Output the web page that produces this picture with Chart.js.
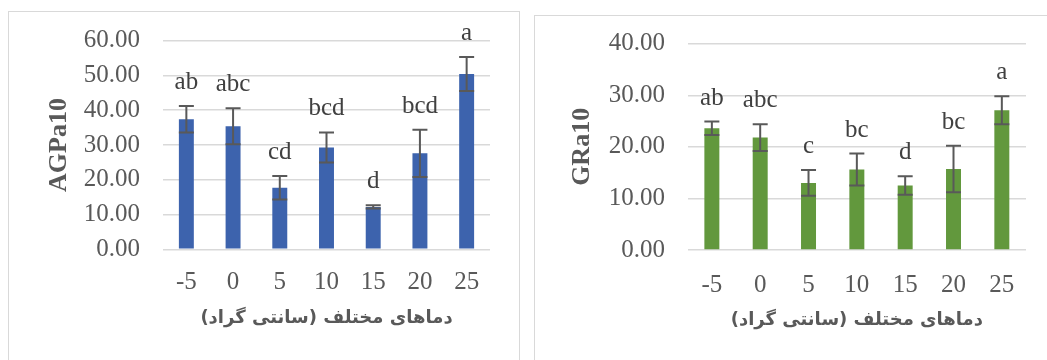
<!DOCTYPE html>
<html>
<head>
<meta charset="utf-8">
<script src="https://cdn.jsdelivr.net/npm/chart.js@4.4.1/dist/chart.umd.min.js"></script>
<style>
  html, body { margin: 0; padding: 0; background: #fff; width: 1047px; height: 360px; overflow: hidden; }
  .frame { position: absolute; border: 1px solid #d9d9d9; box-sizing: border-box; }
  #frameA { left: 8px; top: 11px; width: 512px; height: 400px; }
  #frameB { left: 534px; top: 15px; width: 600px; height: 400px; }
  canvas { position: absolute; top: 0; }
  #chartA { left: 0; }
  #chartB { left: 520px; }
</style>
</head>
<body>
<div class="frame" id="frameA"></div>
<div class="frame" id="frameB"></div>
<canvas id="chartA" width="520" height="360"></canvas>
<canvas id="chartB" width="527" height="360"></canvas>
<script>
// Temperatures (°C) on the category axis
const categories = ['-5', '0', '5', '10', '15', '20', '25'];

// AGPa10: means, standard errors and Duncan groups
const agpaMeans  = [37.4, 35.4, 17.7, 29.3, 12.2, 27.6, 50.4];
const agpaErrors = [3.8, 5.2, 3.4, 4.3, 0.5, 6.8, 4.9];
const agpaGroups = ['ab', 'abc', 'cd', 'bcd', 'd', 'bcd', 'a'];

// GRa10: means, standard errors and Duncan groups
const graMeans  = [23.6, 21.8, 13.0, 15.6, 12.5, 15.7, 27.1];
const graErrors = [1.3, 2.6, 2.5, 3.1, 1.8, 4.5, 2.7];
const graGroups = ['ab', 'abc', 'c', 'bc', 'd', 'bc', 'a'];

// Axis titles
const xTitle = '\u200Fدماهای مختلف (سانتی گراد)\u200F';
const agpaTitle = 'AGPa10';
const graTitle = 'GRa10';

const textGrey = '#595959';
const serif = "'Liberation Serif', 'Times New Roman', serif";

// Draws whiskers for each bar and the significance letters above them
function makeErrorBars(errors, groups) {
  return {
    id: 'errorBars',
    afterDatasetsDraw(chart) {
      const { ctx } = chart;
      const yScale = chart.scales.y;
      const meta = chart.getDatasetMeta(0);
      const values = chart.data.datasets[0].data;
      ctx.save();
      ctx.strokeStyle = '#595959';
      ctx.lineWidth = 2;
      meta.data.forEach((bar, i) => {
        const top = yScale.getPixelForValue(values[i] + errors[i]);
        const bottom = yScale.getPixelForValue(values[i] - errors[i]);
        const x = bar.x;
        const cap = 7.5;
        ctx.beginPath();
        ctx.moveTo(x, top); ctx.lineTo(x, bottom);
        ctx.moveTo(x - cap, top); ctx.lineTo(x + cap, top);
        ctx.moveTo(x - cap, bottom); ctx.lineTo(x + cap, bottom);
        ctx.stroke();
        ctx.fillStyle = '#404040';
        ctx.font = '25px ' + serif;
        ctx.textAlign = 'center';
        ctx.textBaseline = 'alphabetic';
        ctx.fillText(groups[i], x, top - 17);
      });
      ctx.restore();
    }
  };
}

function buildChart(id, cfg) {
  return new Chart(document.getElementById(id), {
    type: 'bar',
    data: {
      labels: categories,
      datasets: [{
        data: cfg.means,
        backgroundColor: cfg.color,
        borderWidth: 0,
        barPercentage: cfg.barPct,
        categoryPercentage: 1
      }]
    },
    options: {
      responsive: false,
      animation: false,
      events: [],
      layout: { padding: { left: 0, right: cfg.padRight, top: cfg.padTop, bottom: 0 } },
      plugins: { legend: { display: false }, tooltip: { enabled: false } },
      scales: {
        x: {
          grid: { display: false },
          border: { display: false },
          ticks: { color: textGrey, font: { family: serif, size: 25 }, padding: cfg.xTickPad, maxRotation: 0 },
          title: {
            display: true, text: xTitle, color: textGrey,
            font: { family: "'DejaVu Sans'", size: 18, weight: 'bold' },
            padding: { top: 0, bottom: cfg.xTitlePad }
          },
          afterFit(scale) { scale.height = cfg.xAxisHeight; }
        },
        y: {
          min: 0, max: cfg.yMax,
          border: { display: false },
          grid: { color: '#d9d9d9', lineWidth: 1.5, drawTicks: false },
          ticks: { stepSize: 10, color: textGrey, font: { family: serif, size: 25 }, padding: cfg.yTickPad,
                   callback: v => v.toFixed(2) },
          title: {
            display: true, text: cfg.yTitle, color: textGrey,
            font: { family: serif, size: 26, weight: 'bold' },
            padding: { top: cfg.yTitlePad, bottom: 0 }
          },
          afterFit(scale) { scale.width = cfg.yAxisWidth; }
        }
      }
    },
    plugins: [makeErrorBars(cfg.errors, cfg.groups)]
  });
}

buildChart('chartA', {
  means: agpaMeans, errors: agpaErrors, groups: agpaGroups,
  color: '#3d63ad', barPct: 0.32, yMax: 60, yTitle: agpaTitle,
  padRight: 30, padTop: 40.7, yAxisWidth: 163, xAxisHeight: 110.7,
  yTickPad: 23, yTitlePad: 44, xTickPad: 10, xTitlePad: 31
});

buildChart('chartB', {
  means: graMeans, errors: graErrors, groups: graGroups,
  color: '#62983d', barPct: 0.31, yMax: 40, yTitle: graTitle,
  padRight: 21, padTop: 43.7, yAxisWidth: 167.7, xAxisHeight: 110,
  yTickPad: 22.7, yTitlePad: 47, xTickPad: 12, xTitlePad: 29
});
</script>
</body>
</html>
